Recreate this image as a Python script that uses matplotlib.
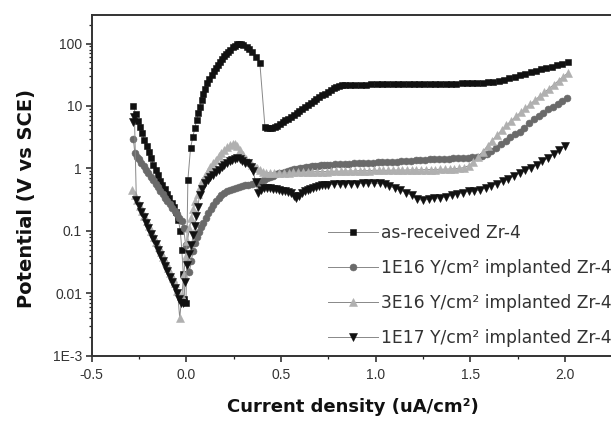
import matplotlib
matplotlib.use("Agg")
import matplotlib.pyplot as plt
from matplotlib.ticker import MultipleLocator, LogLocator, NullFormatter

plt.rcParams['font.family'] = ['Liberation Sans', 'DejaVu Sans']

# ---------------- data ----------------
x_ar = [-0.280, -0.268, -0.256, -0.245, -0.234, -0.222, -0.210, -0.198, -0.186, -0.174,
        -0.162, -0.150, -0.138, -0.126, -0.114, -0.102, -0.090, -0.078, -0.066, -0.054,
        -0.042, -0.032, -0.024, -0.016, -0.010, -0.002, 0.008, 0.022, 0.034, 0.045,
        0.054, 0.063, 0.072, 0.080, 0.089, 0.098, 0.110, 0.122, 0.133, 0.144,
        0.155, 0.166, 0.177, 0.188, 0.199, 0.210, 0.220, 0.232, 0.244, 0.256,
        0.266, 0.276, 0.288, 0.300, 0.318, 0.331, 0.344, 0.366, 0.388, 0.415,
        0.428, 0.441, 0.454, 0.467, 0.480, 0.494, 0.508, 0.522, 0.537, 0.552,
        0.567, 0.582, 0.597, 0.612, 0.627, 0.642, 0.657, 0.672, 0.687, 0.702,
        0.717, 0.732, 0.747, 0.762, 0.777, 0.792, 0.807, 0.822, 0.837, 0.865,
        0.893, 0.921, 0.949, 0.977, 1.005, 1.033, 1.061, 1.089, 1.117, 1.145,
        1.173, 1.201, 1.229, 1.257, 1.285, 1.313, 1.341, 1.369, 1.397, 1.425,
        1.453, 1.481, 1.509, 1.537, 1.565, 1.593, 1.621, 1.649, 1.677, 1.705,
        1.733, 1.761, 1.789, 1.817, 1.845, 1.873, 1.901, 1.929, 1.957, 1.985, 2.013]
y_ar = [10, 7.5, 5.8, 4.6, 3.7, 2.9, 2.3, 1.8, 1.45, 1.15,
        0.95, 0.78, 0.64, 0.54, 0.46, 0.39, 0.33, 0.28, 0.24, 0.20,
        0.15, 0.10, 0.05, 0.02, 0.008, 0.007, 0.65, 2.1, 3.2, 4.4,
        6.0, 7.6, 9.8, 12.4, 15.5, 19, 23, 27, 31, 36,
        41, 46, 51, 57, 63, 68, 73, 80, 87, 93,
        98, 100, 97, 94, 89, 81, 73, 61, 49, 4.6,
        4.5, 4.5, 4.5, 4.6, 4.8, 5.1, 5.5, 5.9, 6.3, 6.7,
        7.2, 7.8, 8.4, 9.1, 9.8, 10.5, 11.2, 12.0, 12.9, 13.8,
        14.8, 15.8, 16.9, 18.0, 19.1, 20.1, 20.9, 21.4, 21.7, 21.8,
        21.9, 22.0, 22.0, 22.1, 22.1, 22.2, 22.2, 22.3, 22.3, 22.4,
        22.4, 22.5, 22.5, 22.6, 22.6, 22.7, 22.7, 22.8, 22.8, 22.9,
        23.0, 23.1, 23.2, 23.3, 23.5, 23.8, 24.3, 25.2, 26.5, 28.0,
        29.6, 31.2, 33.0, 34.8, 36.6, 38.5, 40.5, 42.5, 44.8, 47.5, 50.5]

x_1e16 = [-0.280, -0.272, -0.260, -0.250, -0.237, -0.225, -0.212, -0.200, -0.187, -0.175,
          -0.162, -0.150, -0.137, -0.125, -0.112, -0.100, -0.087, -0.075, -0.062, -0.050,
          -0.037, -0.025, -0.014, -0.004, 0.006, 0.016, 0.026, 0.036, 0.046, 0.056,
          0.066, 0.078, 0.090, 0.102, 0.115, 0.128, 0.142, 0.156, 0.170, 0.185,
          0.200, 0.216, 0.232, 0.248, 0.264, 0.280, 0.296, 0.312, 0.328, 0.344,
          0.360, 0.376, 0.392, 0.408, 0.424, 0.440, 0.456, 0.472, 0.488, 0.504,
          0.520, 0.536, 0.552, 0.568, 0.584, 0.600, 0.616, 0.632, 0.648, 0.664,
          0.680, 0.696, 0.712, 0.728, 0.744, 0.760, 0.785, 0.810, 0.835, 0.860,
          0.885, 0.910, 0.935, 0.960, 0.985, 1.010, 1.035, 1.060, 1.085, 1.110,
          1.135, 1.160, 1.185, 1.210, 1.235, 1.260, 1.285, 1.310, 1.335, 1.360,
          1.385, 1.410, 1.435, 1.460, 1.485, 1.510, 1.535, 1.560, 1.585, 1.610,
          1.635, 1.660, 1.685, 1.710, 1.735, 1.760, 1.785, 1.810, 1.835, 1.860,
          1.885, 1.910, 1.935, 1.960, 1.985, 2.010]
y_1e16 = [3.0, 1.75, 1.54, 1.39, 1.22, 1.08, 0.95, 0.84, 0.73, 0.65,
          0.57, 0.50, 0.44, 0.39, 0.34, 0.30, 0.27, 0.236, 0.207, 0.183,
          0.16, 0.142, 0.11, 0.06, 0.032, 0.022, 0.033, 0.048, 0.065, 0.08,
          0.095, 0.115, 0.135, 0.16, 0.19, 0.22, 0.26, 0.30, 0.33, 0.37,
          0.40, 0.43, 0.45, 0.47, 0.49, 0.51, 0.52, 0.54, 0.55, 0.57,
          0.58, 0.60, 0.63, 0.66, 0.69, 0.73, 0.77, 0.80, 0.83, 0.86,
          0.89, 0.92, 0.94, 0.97, 0.99, 1.01, 1.03, 1.05, 1.07, 1.09,
          1.10, 1.11, 1.12, 1.13, 1.14, 1.15, 1.16, 1.17, 1.18, 1.19,
          1.20, 1.21, 1.22, 1.23, 1.24, 1.25, 1.26, 1.27, 1.28, 1.29,
          1.30, 1.32, 1.33, 1.34, 1.36, 1.37, 1.39, 1.40, 1.41, 1.42,
          1.43, 1.45, 1.46, 1.47, 1.48, 1.50, 1.53, 1.60, 1.72, 1.90,
          2.15, 2.45, 2.8, 3.15, 3.5, 3.9, 4.5, 5.3, 6.1, 6.9,
          7.8, 8.8, 9.8, 10.9, 12.0, 13.2]

x_3e16 = [-0.285, -0.272, -0.260, -0.247, -0.235, -0.222, -0.210, -0.197, -0.185, -0.172,
          -0.160, -0.147, -0.135, -0.122, -0.110, -0.097, -0.085, -0.072, -0.060, -0.047,
          -0.035, -0.024, -0.014, -0.004, 0.006, 0.016, 0.026, 0.036, 0.048, 0.060,
          0.072, 0.085, 0.098, 0.112, 0.126, 0.140, 0.155, 0.170, 0.185, 0.200,
          0.215, 0.230, 0.245, 0.258, 0.270, 0.285, 0.300, 0.315, 0.330, 0.345,
          0.360, 0.375, 0.390, 0.405, 0.420, 0.440, 0.465, 0.490, 0.515, 0.540,
          0.565, 0.590, 0.615, 0.640, 0.665, 0.690, 0.715, 0.740, 0.765, 0.790,
          0.815, 0.840, 0.865, 0.890, 0.915, 0.940, 0.965, 0.990, 1.015, 1.040,
          1.065, 1.090, 1.115, 1.140, 1.165, 1.190, 1.215, 1.240, 1.265, 1.290,
          1.315, 1.340, 1.365, 1.390, 1.415, 1.440, 1.465, 1.490, 1.515, 1.540,
          1.565, 1.590, 1.615, 1.640, 1.665, 1.690, 1.715, 1.740, 1.765, 1.790,
          1.815, 1.840, 1.865, 1.890, 1.915, 1.940, 1.965, 1.990, 2.015]
y_3e16 = [0.45, 0.369, 0.308, 0.252, 0.210, 0.173, 0.144, 0.118, 0.098, 0.081,
          0.067, 0.055, 0.046, 0.038, 0.0315, 0.0258, 0.0215, 0.0177, 0.0147, 0.011,
          0.004, 0.009, 0.02, 0.04, 0.07, 0.11, 0.16, 0.22, 0.30, 0.39,
          0.50, 0.62, 0.75, 0.90, 1.05, 1.20, 1.38, 1.57, 1.77, 1.97,
          2.17, 2.35, 2.5, 2.45, 2.25, 1.95, 1.65, 1.40, 1.25, 1.14,
          1.07, 1.00, 0.93, 0.88, 0.86, 0.85, 0.85, 0.85, 0.86, 0.86,
          0.87, 0.87, 0.88, 0.88, 0.88, 0.89, 0.89, 0.89, 0.90, 0.90,
          0.90, 0.91, 0.91, 0.91, 0.92, 0.92, 0.92, 0.93, 0.93, 0.93,
          0.93, 0.94, 0.94, 0.94, 0.94, 0.95, 0.95, 0.95, 0.96, 0.96,
          0.96, 0.97, 0.97, 0.98, 0.99, 1.00, 1.03, 1.10, 1.25, 1.50,
          1.85, 2.3, 2.8, 3.4, 4.1, 4.9, 5.8, 6.8, 7.9, 9.2,
          10.7, 12.4, 14.3, 16.5, 19.0, 22.0, 25.5, 29.5, 34.0]

x_1e17 = [-0.280, -0.274, -0.264, -0.250, -0.237, -0.225, -0.212, -0.200, -0.187, -0.175,
          -0.162, -0.150, -0.137, -0.125, -0.112, -0.100, -0.087, -0.075, -0.062, -0.050,
          -0.037, -0.026, -0.016, -0.006, 0.004, 0.014, 0.027, 0.036, 0.045, 0.053,
          0.060, 0.070, 0.084, 0.098, 0.112, 0.126, 0.140, 0.155, 0.170, 0.186,
          0.200, 0.214, 0.228, 0.242, 0.256, 0.268, 0.282, 0.296, 0.311, 0.326,
          0.340, 0.352, 0.366, 0.380, 0.395, 0.410, 0.425, 0.440, 0.456, 0.472,
          0.488, 0.504, 0.520, 0.536, 0.552, 0.566, 0.580, 0.595, 0.610, 0.625,
          0.640, 0.655, 0.670, 0.686, 0.702, 0.718, 0.734, 0.750, 0.780, 0.810,
          0.840, 0.870, 0.900, 0.930, 0.960, 0.990, 1.020, 1.050, 1.070, 1.100,
          1.130, 1.160, 1.190, 1.220, 1.250, 1.280, 1.310, 1.340, 1.370, 1.400,
          1.430, 1.460, 1.490, 1.520, 1.550, 1.580, 1.610, 1.640, 1.670, 1.700,
          1.730, 1.760, 1.790, 1.820, 1.850, 1.880, 1.910, 1.940, 1.970, 2.000]
y_1e17 = [5.6, 6.7, 0.31, 0.248, 0.20, 0.166, 0.135, 0.111, 0.090, 0.0745,
          0.0605, 0.050, 0.0406, 0.0335, 0.0272, 0.0225, 0.0182, 0.015, 0.0122, 0.0101,
          0.0082, 0.007, 0.007, 0.015, 0.028, 0.042, 0.059, 0.085, 0.12, 0.17,
          0.24, 0.37, 0.47, 0.58, 0.66, 0.72, 0.78, 0.87, 0.96, 1.06,
          1.15, 1.24, 1.32, 1.38, 1.43, 1.45, 1.40, 1.30, 1.22, 1.20,
          1.05, 0.92, 0.60, 0.40, 0.45, 0.48, 0.48, 0.48, 0.47, 0.46,
          0.45, 0.44, 0.43, 0.42, 0.40, 0.36, 0.33, 0.36, 0.40, 0.43,
          0.45, 0.47, 0.49, 0.51, 0.53, 0.54, 0.55, 0.55, 0.56, 0.56,
          0.57, 0.57, 0.57, 0.58, 0.58, 0.58, 0.575, 0.56, 0.53, 0.48,
          0.45, 0.41, 0.37, 0.32, 0.31, 0.32, 0.33, 0.34, 0.35, 0.37,
          0.39, 0.41, 0.43, 0.44, 0.45, 0.49, 0.53, 0.57, 0.62, 0.68,
          0.76, 0.84, 0.93, 1.03, 1.15, 1.30, 1.48, 1.70, 1.98, 2.30]

labels = ["as-received Zr-4",
          "1E16 Y/cm² implanted Zr-4",
          "3E16 Y/cm² implanted Zr-4",
          "1E17 Y/cm² implanted Zr-4"]
ytick_vals = [1e-3, 1e-2, 1e-1, 1, 10, 100]
ytick_labels = ["1E-3", "0.01", "0.1", "1", "10", "100"]
xtick_vals = [-0.5, 0.0, 0.5, 1.0, 1.5, 2.0]
xtick_labels = ["-0.5", "0.0", "0.5", "1.0", "1.5", "2.0"]

# ---------------- figure ----------------
fig = plt.figure(figsize=(6.11, 4.26), dpi=100)
ax = fig.add_axes([0.150, 0.165, 0.868, 0.8005])

series = [
    (x_ar, y_ar, 's', '#111111', 4.8),
    (x_1e16, y_1e16, 'o', '#6a6a6a', 5.0),
    (x_3e16, y_3e16, '^', '#b0b0b0', 5.2),
    (x_1e17, y_1e17, 'v', '#111111', 5.2),
]
handles = []
for (xs, ys, mk, col, ms), lab in zip(series, labels):
    h, = ax.plot(xs, ys, marker=mk, color='#888888', lw=0.7, markersize=ms,
                 markerfacecolor=col, markeredgecolor=col, markeredgewidth=0.4,
                 label=lab)
    handles.append(h)

ax.set_yscale('log')
ax.set_xlim(-0.5, 2.3)
ax.set_ylim(1e-3, 290)

ax.set_yticks(ytick_vals)
ax.set_yticklabels(ytick_labels)
ax.yaxis.set_minor_locator(LogLocator(base=10, subs=[2, 3, 4, 5, 6, 7, 8, 9]))
ax.yaxis.set_minor_formatter(NullFormatter())
ax.set_xticks(xtick_vals)
ax.set_xticklabels(xtick_labels)
ax.xaxis.set_minor_locator(MultipleLocator(0.25))

ax.tick_params(which='major', direction='out', length=4, width=1.1,
               labelsize=10, color='#222222', labelcolor='#333333', pad=3)
ax.tick_params(axis='x', which='major', pad=5)
ax.tick_params(which='minor', direction='out', length=2.2, width=0.9, color='#222222')
ax.tick_params(top=False, right=False, which='both')
for sp in ax.spines.values():
    sp.set_linewidth(1.4)
    sp.set_color('#333333')

ax.set_xlabel("Current density (uA/cm²)", fontsize=13, fontweight='bold',
              family=['DejaVu Sans'], color='#111111')
ax.set_ylabel("Potential (V vs SCE)", fontsize=14, fontweight='bold',
              family=['DejaVu Sans'], color='#111111')
ax.xaxis.set_label_coords(0.4925, -0.125)
ax.yaxis.set_label_coords(-0.105, 0.462)

leg = ax.legend(handles=handles, loc='upper left',
                bbox_to_anchor=(328 / 611, 1 - 224 / 426),
                bbox_transform=fig.transFigure,
                prop={'family': ['DejaVu Sans'], 'size': 12.3},
                frameon=False, handlelength=2.9, handletextpad=0.2,
                labelspacing=1.0, borderpad=0, borderaxespad=0, numpoints=1)
for t in leg.get_texts():
    t.set_color('#333333')

fig.savefig('out.png', dpi=100)
